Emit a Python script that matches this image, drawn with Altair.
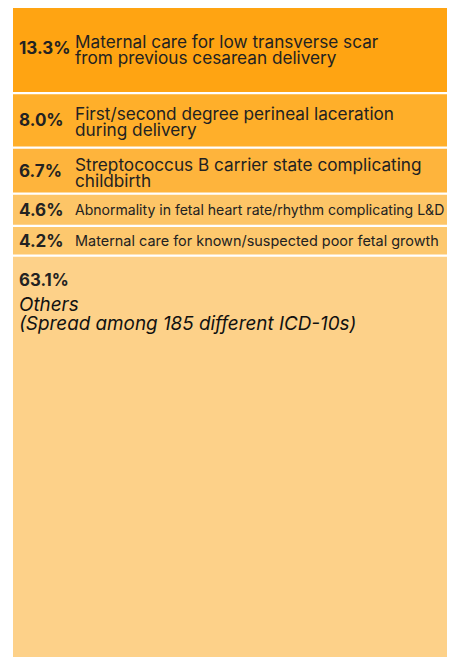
import altair as alt
import pandas as pd

# ---- data ----
shares = [13.3, 8.0, 6.7, 4.6, 4.2, 63.1]
pct_labels = ["13.3%", "8.0%", "6.7%", "4.6%", "4.2%", "63.1%"]
descriptions = [
    "Maternal care for low transverse scar|from previous cesarean delivery",
    "First/second degree perineal laceration|during delivery",
    "Streptococcus B carrier state complicating|childbirth",
    "Abnormality in fetal heart rate/rhythm complicating L&D",
    "Maternal care for known/suspected poor fetal growth",
    "Others|(Spread among 185 different ICD-10s)",
]
groups = ["large", "large", "large", "small", "small", "others"]
colors = ["#FFA412", "#FFAF2A", "#FEB43C", "#FDC567", "#FDC86E", "#FDD189"]

# layout constants
GAP = 0.3364          # gap between boxes, in share units
PLOT_W = 434
PLOT_H = 649

df = pd.DataFrame({
    "idx": list(range(len(shares))),
    "share": shares,
    "pct": pct_labels,
    "desc": descriptions,
    "group": groups,
})

FONT = "Inter"
TXT = "#222222"

base = alt.Chart(df).transform_window(
    cum="sum(share)", sort=[alt.SortField("idx")], frame=[None, 0]
).transform_calculate(
    end=f"datum.cum + datum.idx * {GAP}"
).transform_calculate(
    start="datum.end - datum.share"
).transform_calculate(
    mid="(datum.start + datum.end) / 2",
    lines="split(datum.desc, '|')",
)

k = 6.54
lo = 3 / k
yscale = alt.Scale(domain=[lo, lo + PLOT_H / k], reverse=True, nice=False, zero=False)

rects = base.mark_rect().encode(
    y=alt.Y("start:Q", scale=yscale, axis=None),
    y2="end:Q",
    color=alt.Color("idx:N", scale=alt.Scale(domain=list(range(len(colors))), range=colors), legend=None),
)

pct_main = base.transform_filter("datum.group != 'others'").mark_text(
    align="left", baseline="middle", dy=1, font=FONT, fontSize=17, fontWeight="bold", color=TXT
).encode(y=alt.Y("mid:Q", scale=yscale), x=alt.value(6), text="pct:N")

desc_large = base.transform_filter("datum.group == 'large'").mark_text(
    align="left", baseline="middle", dy=-5, font=FONT, fontSize=17.2, lineHeight=16, color=TXT
).encode(y=alt.Y("mid:Q", scale=yscale), x=alt.value(62), text="lines:N")

desc_small = base.transform_filter("datum.group == 'small'").mark_text(
    align="left", baseline="middle", dy=1, font=FONT, color=TXT
).encode(
    y=alt.Y("mid:Q", scale=yscale), x=alt.value(62), text="lines:N",
    size=alt.condition("datum.idx == 3", alt.value(14.05), alt.value(14.45)),
)

pct_other = base.transform_filter("datum.group == 'others'").mark_text(
    align="left", baseline="alphabetic", dy=29.2, font=FONT, fontSize=16.8, fontWeight="bold", color=TXT
).encode(y=alt.Y("start:Q", scale=yscale), x=alt.value(6), text="pct:N")

desc_other = base.transform_filter("datum.group == 'others'").mark_text(
    align="left", baseline="alphabetic", dy=54.2, font=FONT, fontSize=18.85, fontStyle="italic",
    lineHeight=19, color="#111111"
).encode(y=alt.Y("start:Q", scale=yscale), x=alt.value(6), text="lines:N")

chart = alt.layer(rects, pct_main, desc_large, desc_small, pct_other, desc_other).properties(
    width=PLOT_W, height=PLOT_H,
    autosize=alt.AutoSizeParams(type="none"),
    padding={"left": 5, "top": 0, "right": 0, "bottom": 0},
).configure_view(stroke=None)

chart.save("out.html", embed_options={"renderer": "svg", "actions": False})
